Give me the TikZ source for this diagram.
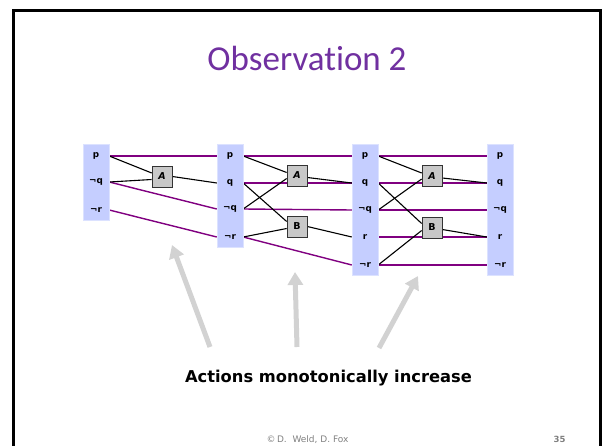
\documentclass[tikz,border=0pt]{standalone}
\usepackage{fontspec}
\setmainfont[Ligatures=NoCommon]{Carlito}
\newfontfamily\labelfont{DejaVu Sans}
\usetikzlibrary{arrows.meta,calc,backgrounds}
\definecolor{titlepurple}{HTML}{7030A0}
\definecolor{layerblue}{RGB}{197,206,255}
\definecolor{noop}{HTML}{800080}
\definecolor{actgray}{RGB}{200,200,200}
\definecolor{hintgray}{RGB}{210,210,210}
\begin{document}
\begin{tikzpicture}[x=1pt,y=-1pt,
  layer/.style={fill=layerblue,draw=layerblue!60!white,line width=0.6pt},
  prop/.style={inner sep=0pt,minimum width=26pt,minimum height=10pt,font=\labelfont\bfseries\fontsize{8.8}{10}\selectfont},
  act/.style={fill=actgray,draw=black!80,line width=0.7pt,minimum width=20pt,minimum height=21pt,inner sep=0pt,font=\labelfont\bfseries\fontsize{9.5}{10}\selectfont},
  persist/.style={draw=noop,line width=1.4pt},
  effect/.style={draw=black,line width=1.1pt},
  hint/.style={draw=hintgray,line width=5pt,-{Triangle[width=15pt,length=13pt]}}
]
\useasboundingbox (0,0) rectangle (602,446);

% slide frame
\draw[line width=3pt] (13.5,446) -- (13.5,10.5) -- (600.5,10.5) -- (600.5,446);

% title
\node[text=titlepurple,font=\fontsize{35}{40}\selectfont] (title) at (307,58) {Observation 2};

% proposition layers (backgrounds)
\path[layer] (83,144) rectangle (109,220);
\path[layer] (217,144) rectangle (243,247);
\path[layer] (352,144) rectangle (378,275);
\path[layer] (487,144) rectangle (513,275);

% layer 0
\node[prop] (a0p)  at (96,156) {p};
\node[prop] (a0nq) at (96,182) {¬q};
\node[prop] (a0nr) at (96,210) {¬r};
% layer 1
\node[prop] (a1p)  at (230,156) {p};
\node[prop] (a1q)  at (230,183) {q};
\node[prop] (a1nq) at (230,209) {¬q};
\node[prop] (a1nr) at (230,237) {¬r};
% layer 2
\node[prop] (a2p)  at (365,156) {p};
\node[prop] (a2q)  at (365,183) {q};
\node[prop] (a2nq) at (365,210) {¬q};
\node[prop] (a2r)  at (365,237) {r};
\node[prop] (a2nr) at (365,265) {¬r};
% layer 3
\node[prop] (a3p)  at (500,156) {p};
\node[prop] (a3q)  at (500,183) {q};
\node[prop] (a3nq) at (500,210) {¬q};
\node[prop] (a3r)  at (500,237) {r};
\node[prop] (a3nr) at (500,265) {¬r};

% actions
\node[act] (actA1) at (162,176.5) {\textit{A}};
\node[act] (actA2) at (297,175.5) {\textit{A}};
\node[act] (actB2) at (297,226.5) {B};
\node[act] (actA3) at (432,176) {\textit{A}};
\node[act] (actB3) at (432,227.5) {B};

\begin{scope}[on background layer]
% persistence links
\draw[persist] (a0p.east) -- (a1p.west);
\draw[persist] (a0nq.east) -- (a1nq.west);
\draw[persist] (a0nr.east) -- (a1nr.west);
\draw[persist] (a1p.east) -- (a2p.west);
\draw[persist] (a1q.east) -- (a2q.west);
\draw[persist] (a1nq.east) -- (a2nq.west);
\draw[persist] (a1nr.east) -- (a2nr.west);
\draw[persist] (a2p.east) -- (a3p.west);
\draw[persist] (a2q.east) -- (a3q.west);
\draw[persist] (a2nq.east) -- (a3nq.west);
\draw[persist] (a2r.east) -- (a3r.west);
\draw[persist] (a2nr.east) -- (a3nr.west);

% preconditions and effects
\draw[effect] (a0p.east) -- ([yshift=3.5pt]actA1.west);
\draw[effect] (a0nq.east) -- ([yshift=-3pt]actA1.west);
\draw[effect] (actA1.east) -- (a1q.west);

\draw[effect] (a1p.east) -- ([yshift=3pt]actA2.west);
\draw[effect] (a1nq.east) -- ([yshift=-3pt]actA2.west);
\draw[effect] (a1q.east) -- ([yshift=5pt]actB2.west);
\draw[effect] (a1nr.east) -- ([yshift=-2pt]actB2.west);
\draw[effect] ([yshift=-2pt]actA2.east) -- (a2q.west);
\draw[effect] (actB2.east) -- (a2r.west);

\draw[effect] (a2p.east) -- ([yshift=3pt]actA3.west);
\draw[effect] (a2nq.east) -- ([yshift=-3pt]actA3.west);
\draw[effect] (a2q.east) -- ([yshift=4pt]actB3.west);
\draw[effect] (a2nr.east) -- ([yshift=-3pt]actB3.west);
\draw[effect] ([yshift=-2pt]actA3.east) -- (a3q.west);
\draw[effect] ([yshift=-2pt]actB3.east) -- (a3r.west);
\end{scope}

% pointers to the action layers
\coordinate (tip1) at (172,245);
\coordinate (tip2) at (295,272);
\coordinate (tip3) at (418,276);
\coordinate (tail1) at (210,347);
\coordinate (tail2) at (297,347);
\coordinate (tail3) at (379,348);
\draw[hint] (tail1) -- (tip1);
\draw[hint] (tail2) -- (tip2);
\draw[hint] (tail3) -- (tip3);

\node[font=\labelfont\bfseries\fontsize{16.3}{18}\selectfont] (caption) at (328.5,378) {Actions monotonically increase};

\node[text=gray,font=\labelfont\fontsize{9}{10}\selectfont] (credit) at (307.5,440) {©\,D.\ \ Weld, D. Fox};
\node[text=gray,font=\labelfont\bfseries\fontsize{8.5}{10}\selectfont] (pagenum) at (559.5,439) {35};
\end{tikzpicture}
\end{document}
